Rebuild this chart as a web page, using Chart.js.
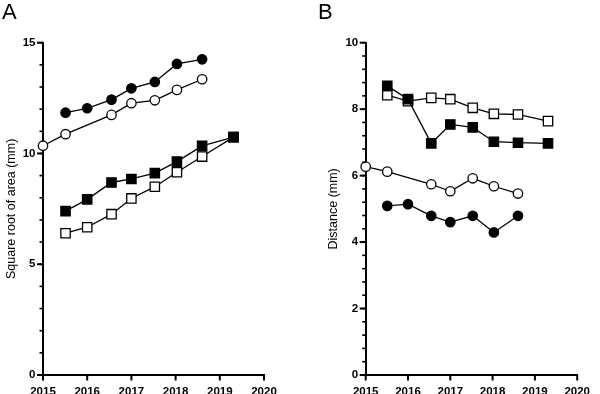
<!DOCTYPE html>
<html>
<head>
<meta charset="utf-8">
<script src="https://cdn.jsdelivr.net/npm/chart.js@4"></script>
<style>
  html, body { margin: 0; padding: 0; background: #fff; }
  #wrap { position: relative; width: 600px; height: 394px; overflow: hidden; }
  .pane { position: absolute; top: 0; width: 300px; height: 394px; }
</style>
</head>
<body>
<div id="wrap">
  <div class="pane" style="left:0"><canvas id="cA" width="300" height="394"></canvas></div>
  <div class="pane" style="left:300px"><canvas id="cB" width="300" height="394"></canvas></div>
</div>
<script>
// ---- data ----
const visitYears = [2015.0, 2015.51, 2016.0, 2016.55, 2017.0, 2017.53, 2018.03, 2018.6, 2019.31];
const xTickLabels = [2015, 2016, 2017, 2018, 2019, 2020];

// Panel A: square root of area (mm)
const sqrtFilledCircle = [null, 11.84, 12.04, 12.43, 12.94, 13.23, 14.04, 14.25, null];
const sqrtOpenCircle   = [10.35, 10.87, null, 11.74, 12.27, 12.40, 12.87, 13.35, null];
const sqrtFilledSquare = [null, 7.40, 7.93, 8.69, 8.85, 9.11, 9.63, 10.34, 10.74];
const sqrtOpenSquare   = [null, 6.40, 6.67, 7.26, 7.97, 8.50, 9.15, 9.86, 10.74];
const yTicksA = [0, 5, 10, 15];

// Panel B: distance (mm)
const distFilledSquare = [null, 8.70, 8.30, 6.97, 7.54, 7.45, 7.02, 6.99, 6.97];
const distOpenSquare   = [null, 8.42, 8.24, 8.34, 8.30, 8.04, 7.86, 7.84, 7.64];
const distOpenCircle   = [6.27, 6.12, null, 5.74, 5.53, 5.92, 5.68, 5.46, null];
const distFilledCircle = [null, 5.09, 5.14, 4.79, 4.60, 4.79, 4.29, 4.79, null];
const yTicksB = [0, 2, 4, 6, 8, 10];

// ---- helpers ----
Chart.defaults.font.family = "'Liberation Sans', Arial, sans-serif";
Chart.defaults.color = '#000';

function pts(ys) {
  const out = [];
  ys.forEach((y, i) => { if (y !== null) out.push({x: visitYears[i], y: y}); });
  return out;
}
function series(label, ys, style, filled) {
  const isRect = style === 'rect';
  return {
    label: label,
    data: pts(ys),
    showLine: true,
    borderColor: '#000',
    borderWidth: 1.3,
    pointStyle: style,
    pointRadius: isRect ? 6.6 : 4.7,
    pointHoverRadius: isRect ? 6.6 : 4.7,
    pointBackgroundColor: filled ? '#000' : '#fff',
    pointBorderColor: '#000',
    pointBorderWidth: 1.3,
    clip: false,
    tension: 0
  };
}

const tickPlugin = {
  id: 'axisTicks',
  afterDraw(chart) {
    const ctx = chart.ctx;
    const a = chart.chartArea;
    const xs = chart.scales.x, ys = chart.scales.y;
    const minor = chart.$minorStep || 1;
    ctx.save();
    ctx.fillStyle = '#000';
    // major x ticks
    xs.ticks.forEach(t => {
      const px = xs.getPixelForValue(t.value);
      ctx.fillRect(px - 1, a.bottom, 2, 5.5);
    });
    // major y ticks
    ys.ticks.forEach(t => {
      const py = ys.getPixelForValue(t.value);
      ctx.fillRect(a.left - 6, py - 1, 6, 2);
    });
    // minor y ticks
    const n = Math.round((ys.max - ys.min) / minor);
    for (let i = 0; i <= n; i++) {
      const py = ys.getPixelForValue(ys.min + i * minor);
      ctx.fillRect(a.left - 3.5, py - 0.8, 3.5, 1.6);
    }
    // panel letter
    ctx.font = "22px 'Liberation Sans', Arial, sans-serif";
    ctx.textBaseline = 'alphabetic';
    ctx.textAlign = 'left';
    ctx.fillText(chart.$letter || '', chart.$letterX || 2, 19);
    ctx.restore();
  }
};

function makeChart(id, datasets, yMax, yTicks, minor, title, letter, lx, padLeft, yWidth, padRight) {
  const ch = new Chart(document.getElementById(id), {
    type: 'scatter',
    data: { datasets: datasets },
    plugins: [tickPlugin],
    options: {
      responsive: false,
      devicePixelRatio: 1,
      animation: false,
      events: [],
      layout: { padding: { left: padLeft, right: padRight, top: 42.7, bottom: 0 } },
      plugins: {
        legend: { display: false },
        tooltip: { enabled: false },
        title: { display: false }
      },
      scales: {
        x: {
          type: 'linear',
          min: xTickLabels[0],
          max: xTickLabels[xTickLabels.length - 1],
          afterBuildTicks: (s) => { s.ticks = xTickLabels.map(v => ({value: v})); },
          afterFit: (s) => { s.height = 19; },
          grid: { display: false, drawTicks: false },
          border: { display: true, color: '#000', width: 2 },
          ticks: {
            padding: 10,
            font: { size: 11.5, weight: 'bold' },
            color: '#000',
            maxRotation: 0,
            autoSkip: false,
            callback: (v) => String(v)
          }
        },
        y: {
          type: 'linear',
          min: 0,
          max: yMax,
          afterBuildTicks: (s) => { s.ticks = yTicks.map(v => ({value: v})); },
          afterFit: (s) => { s.width = yWidth; },
          grid: { display: false, drawTicks: false },
          border: { display: true, color: '#000', width: 2 },
          title: {
            display: true,
            text: title,
            color: '#000',
            font: { size: 12.5, weight: 'normal' },
            padding: { top: 4, bottom: 0 }
          },
          ticks: {
            padding: 7.5,
            font: { size: 11.5, weight: 'bold' },
            color: '#000',
            autoSkip: false,
            callback: (v) => String(v)
          }
        }
      }
    }
  });
  ch.$minorStep = minor;
  ch.$letter = letter;
  ch.$letterX = lx;
  ch.draw();
  return ch;
}

makeChart('cA', [
  series('filled circle', sqrtFilledCircle, 'circle', true),
  series('open circle', sqrtOpenCircle, 'circle', false),
  series('filled square', sqrtFilledSquare, 'rect', true),
  series('open square', sqrtOpenSquare, 'rect', false)
], 15, yTicksA, 1, 'Square root of area (mm)', 'A', 2, 0, 43, 36);

makeChart('cB', [
  series('filled square', distFilledSquare, 'rect', true),
  series('open square', distOpenSquare, 'rect', false),
  series('open circle', distOpenCircle, 'circle', false),
  series('filled circle', distFilledCircle, 'circle', true)
], 10, yTicksB, 0.4, 'Distance (mm)', 'B', 18, 22, 43.7, 12.7);
</script>
</body>
</html>
